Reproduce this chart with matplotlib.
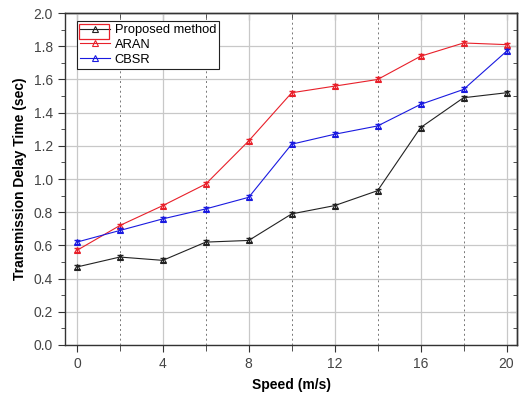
import matplotlib
matplotlib.use("Agg")
import matplotlib.pyplot as plt
from matplotlib.ticker import MultipleLocator, FormatStrFormatter
from matplotlib.patches import Rectangle

speed = [0, 2, 4, 6, 8, 10, 12, 14, 16, 18, 20]
proposed = [0.47, 0.53, 0.51, 0.62, 0.63, 0.79, 0.84, 0.93, 1.31, 1.49, 1.52]
aran = [0.57, 0.72, 0.84, 0.97, 1.23, 1.52, 1.56, 1.60, 1.74, 1.82, 1.81]
cbsr = [0.62, 0.69, 0.76, 0.82, 0.89, 1.21, 1.27, 1.32, 1.45, 1.54, 1.77]
err = 0.012

plt.rcParams['font.family'] = ['Liberation Sans', 'DejaVu Sans']

fig = plt.figure(figsize=(5.23, 3.97), dpi=100)
ax = fig.add_axes([0.124, 0.131, 0.865, 0.836])

series = [("Proposed method", proposed, "#222222"),
          ("ARAN", aran, "#e8202a"),
          ("CBSR", cbsr, "#1a1ae0")]
for name, vals, col in series:
    ax.errorbar(speed, vals, yerr=err, color=col, lw=0.8, fmt='none',
                capsize=2, elinewidth=0.8)
    ax.plot(speed, vals, color=col, lw=0.8, marker='^', ms=4.5,
            mfc='none', mec=col, mew=0.8, label=name)

ax.set_xlim(-0.56, 20.5)
ax.set_ylim(0, 2.0)
ax.xaxis.set_major_locator(MultipleLocator(4))
ax.xaxis.set_minor_locator(MultipleLocator(2))
ax.yaxis.set_major_locator(MultipleLocator(0.2))
ax.yaxis.set_minor_locator(MultipleLocator(0.1))
ax.yaxis.set_major_formatter(FormatStrFormatter('%.1f'))

ax.grid(True, which='major', color='#c8c8c8', lw=0.9)
for x in [2, 6, 10, 14, 18]:
    ax.axvline(x, color='#777777', lw=0.7, ls=(0, (2, 3)), zorder=0.5)
ax.set_axisbelow(True)

ax.tick_params(which='both', direction='out', colors='#333333',
               labelsize=10, labelcolor='#444444')
ax.tick_params(which='major', length=5)
ax.tick_params(axis='y', which='minor', length=3)
ax.tick_params(axis='x', which='minor', length=4)

# inward ticks on top and right
top = ax.secondary_xaxis('top')
top.xaxis.set_major_locator(MultipleLocator(4))
top.xaxis.set_minor_locator(MultipleLocator(2))
top.tick_params(which='both', direction='in', labeltop=False, colors='#333333')
top.tick_params(which='major', length=5)
top.tick_params(which='minor', length=4)
right = ax.secondary_yaxis('right')
right.yaxis.set_major_locator(MultipleLocator(0.2))
right.yaxis.set_minor_locator(MultipleLocator(0.1))
right.tick_params(which='both', direction='in', labelright=False, colors='#333333')
right.tick_params(which='major', length=5)
right.tick_params(which='minor', length=3)

for a in (ax, top, right):
    for s in a.spines.values():
        s.set_color('#333333')
        s.set_linewidth(1.0)

ax.set_xlabel("Speed (m/s)", fontweight='bold', fontsize=10, labelpad=5)
ax.set_ylabel("Transmission Delay Time (sec)", fontweight='bold', fontsize=10, labelpad=5)

leg = ax.legend(loc='upper left', bbox_to_anchor=(0.027, 0.976), fancybox=False,
                edgecolor='#222222', framealpha=1, fontsize=9.3, handlelength=2.3,
                borderpad=0.25, labelspacing=0.2, handletextpad=0.35, borderaxespad=0)
leg.get_frame().set_linewidth(0.8)

# red selection box around the first legend entry's handle
fig.canvas.draw()
fb = leg.get_frame().get_window_extent()
fig.patches.append(Rectangle((fb.x0 + 1.5, fb.y1 - 17.5), 30, 15, transform=None,
                             fill=False, edgecolor='#e8202a', lw=0.9, zorder=10))

fig.savefig("out.png", dpi=100)
